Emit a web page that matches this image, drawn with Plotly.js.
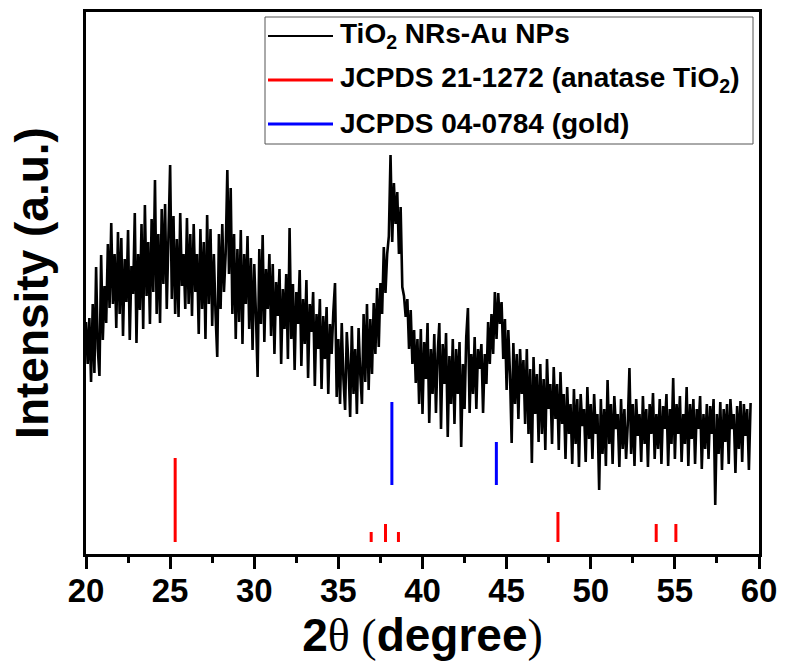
<!DOCTYPE html>
<html>
<head>
<meta charset="utf-8">
<script src="https://cdn.plot.ly/plotly-3.0.1.min.js"></script>
<style>html,body{margin:0;padding:0;background:#fff;}#chart{width:785px;height:666px;}</style>
</head>
<body>
<div id="chart"></div>
<script>
// ---- data ----
const twoThetaStart = 20.0;
const twoThetaStep = 0.1;
const intensity = [
 232,190,236,172,250,181,287,205,178,299,
 214,268,231,310,246,331,250,300,226,322,
 240,316,218,295,252,324,214,288,260,341,
 211,300,244,330,225,349,258,312,230,335,
 262,374,240,320,231,345,270,350,245,330,
 389,255,338,240,315,237,341,268,300,245,
 336,250,320,238,330,262,300,220,325,245,
 312,215,339,250,325,228,300,240,197,320,
 245,330,262,300,384,280,366,240,320,215,
 305,232,324,210,300,250,318,225,296,204,
 290,240,177,305,230,319,212,285,245,300,
 218,290,200,272,238,285,190,265,225,280,
 195,326,215,270,184,262,230,284,188,255,
 210,274,176,250,222,262,168,240,205,255,
 165,238,195,247,160,230,200,242,271,157,
 215,150,231,175,144,222,190,137,228,160,
 205,140,226,180,150,240,172,250,164,235,
 180,251,200,266,207,271,240,307,261,300,
 318,399,312,371,330,362,300,347,267,258,
 237,255,205,244,190,224,171,215,150,225,
 140,212,175,231,131,205,160,220,141,200,
 231,125,210,170,221,117,198,150,215,130,
 205,160,212,107,190,145,217,246,141,200,
 160,217,145,205,185,210,141,200,170,232,
 190,240,200,262,215,261,230,252,195,235,
 164,224,180,111,211,150,200,135,205,160,
 194,130,205,120,185,91,197,140,180,112,
 190,120,175,104,195,145,170,110,187,135,
 170,104,182,130,160,95,167,120,150,90,
 165,110,155,87,160,128,145,92,167,115,
 150,95,160,120,140,64,155,100,145,88,
 174,110,150,90,158,125,140,87,155,105,
 145,95,130,186,100,150,88,155,118,140,
 92,158,110,145,87,150,120,161,95,140,
 105,155,90,148,125,160,88,145,110,176,
 95,150,120,158,92,140,110,167,88,150,
 115,155,90,145,125,158,85,140,105,150,
 95,148,120,155,49,140,100,152,84,145,
 112,150,90,155,125,140,81,148,105,153,
 92,150,118,145,84,151
];
const anataseTheta = [25.3, 36.95, 37.8, 38.57, 48.05, 53.89, 55.06];
const anataseTop = [96, 22, 30, 22, 42, 30, 30];
const anataseBase = 12;
const goldTheta = [38.18, 44.39];
const goldTop = [152, 112];
const goldBase = 69;
const xTicks = [20, 25, 30, 35, 40, 45, 50, 55, 60];
const legendNames = ['TiO<sub>2</sub> NRs-Au NPs', 'JCPDS 21-1272 (anatase TiO<sub>2</sub>)', 'JCPDS 04-0784 (gold)'];

// ---- build ----
const xScan = intensity.map((v, i) => Number((twoThetaStart + i * twoThetaStep).toFixed(2)));
function sticks(pos, top, base) {
  const x = [], y = [];
  pos.forEach((p, i) => { x.push(p, p, null); y.push(base, top[i], null); });
  return {x, y};
}
const an = sticks(anataseTheta, anataseTop, anataseBase);
const au = sticks(goldTheta, goldTop, goldBase);

const traces = [
  {x: xScan, y: intensity, type: 'scatter', mode: 'lines', line: {color: '#000', width: 2.6}, name: legendNames[0], showlegend: false},
  {x: an.x, y: an.y, type: 'scatter', mode: 'lines', line: {color: '#ff0000', width: 3}, name: legendNames[1], showlegend: false},
  {x: au.x, y: au.y, type: 'scatter', mode: 'lines', line: {color: '#0000ff', width: 3}, name: legendNames[2], showlegend: false}
];

const L = 86, PW = 673, T = 12, PH = 542;
const px = v => (v - L) / PW;
const py = v => (T + PH - v) / PH;
const rows = [36, 80, 124];
const colors = ['#000', '#ff0000', '#0000ff'];
const widths = [2, 3, 3];
const shapes = [{type: 'rect', xref: 'paper', yref: 'paper', x0: px(265), x1: px(753), y0: py(144), y1: py(17), line: {color: '#555', width: 1}, fillcolor: 'rgba(0,0,0,0)'}];
const annotations = [];
rows.forEach((r, i) => {
  shapes.push({type: 'line', xref: 'paper', yref: 'paper', x0: px(268), x1: px(333), y0: py(r), y1: py(r), line: {color: colors[i], width: widths[i]}});
  annotations.push({xref: 'paper', yref: 'paper', x: px(338), y: py(r), xanchor: 'left', yanchor: 'middle', showarrow: false, text: legendNames[i], font: {family: 'Liberation Sans, Arial, sans-serif', size: 28, color: '#000', weight: 'bold'}});
});

const layout = {
  width: 785, height: 666,
  margin: {l: L, r: 785 - L - PW, t: T, b: 666 - T - PH},
  paper_bgcolor: '#fff', plot_bgcolor: '#fff',
  showlegend: false,
  xaxis: {
    range: [20, 60], tickvals: xTicks, ticktext: xTicks.map(String),
    ticks: 'outside', ticklen: 12, tickwidth: 3, tickcolor: '#000',
    ticklabelstandoff: -7,
    minor: {dtick: 2.5, tick0: 20, ticks: 'outside', ticklen: 6, tickwidth: 3, tickcolor: '#000', showgrid: false},
    showline: true, linewidth: 3, linecolor: '#000', mirror: true,
    showgrid: false, zeroline: false,
    tickfont: {family: 'Liberation Sans, Arial, sans-serif', size: 33, color: '#000', weight: 'bold'},
    title: {text: '2<span style="font-family:\'Liberation Serif\',serif;font-weight:normal">θ (</span>degree<span style="font-family:\'Liberation Serif\',serif;font-weight:normal">)</span>', standoff: 12,
      font: {family: 'Liberation Sans, Arial, sans-serif', size: 46, color: '#000', weight: 'bold'}}
  },
  yaxis: {
    range: [0, 542], showticklabels: false, ticks: '',
    showline: true, linewidth: 3, linecolor: '#000', mirror: true,
    showgrid: false, zeroline: false,
    title: {text: 'Intensity (a.u.)', standoff: 20,
      font: {family: 'Liberation Sans, Arial, sans-serif', size: 46, color: '#000', weight: 'bold'}}
  },
  shapes: shapes,
  annotations: annotations
};
Plotly.newPlot('chart', traces, layout, {displayModeBar: false, staticPlot: true});
</script>
</body>
</html>
